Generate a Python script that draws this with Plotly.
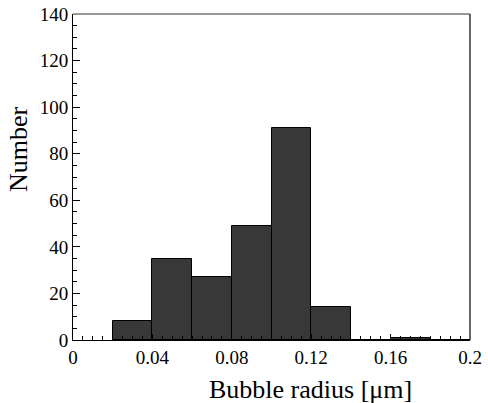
import plotly.graph_objects as go

bin_left = [0.02, 0.04, 0.06, 0.08, 0.10, 0.12, 0.14, 0.16, 0.18]
counts = [8, 35, 27, 49, 91, 14, 0, 1, 0]
bin_width = 0.02
x_ticks = [0, 0.04, 0.08, 0.12, 0.16, 0.2]
x_ticktext = ["0", "0.04", "0.08", "0.12", "0.16", "0.2"]
y_ticks = [0, 20, 40, 60, 80, 100, 120, 140]

centers = [b + bin_width / 2 for b in bin_left]

fig = go.Figure()
fig.add_trace(go.Bar(
    x=centers, y=counts, width=[bin_width] * len(counts),
    marker=dict(color="#383838", line=dict(color="black", width=1)),
    showlegend=False,
))

font = "Liberation Serif"
fig.update_layout(
    width=488, height=403,
    margin=dict(l=73, r=18, t=14, b=63),
    paper_bgcolor="white", plot_bgcolor="white",
    font=dict(family=font, size=19, color="black"),
    bargap=0,
    xaxis=dict(
        range=[0, 0.2], tickvals=x_ticks, ticktext=x_ticktext,
        automargin=False,
        ticks="inside", ticklen=6, tickcolor="black", tickwidth=1,
        showline=True, linecolor="black", linewidth=1,
        showgrid=False, zeroline=False,
        minor=dict(ticks="inside", dtick=0.005, ticklen=4, tickcolor="black", showgrid=False),
        tickfont=dict(family=font, size=19, color="black"),
    ),
    yaxis=dict(
        range=[0, 140], tickvals=y_ticks,
        automargin=False,
        ticks="inside", ticklen=7, tickcolor="black", tickwidth=1,
        showline=True, linecolor="black", linewidth=1,
        showgrid=False, zeroline=False,
        minor=dict(ticks="inside", dtick=5, ticklen=4, tickcolor="black", showgrid=False),
        tickfont=dict(family=font, size=19, color="black"),
    ),
    shapes=[
        dict(type="line", xref="paper", yref="paper", x0=0, x1=1, y0=1, y1=1,
             line=dict(color="#777777", width=1.5)),
        dict(type="line", xref="paper", yref="paper", x0=1, x1=1, y0=0, y1=1,
             line=dict(color="black", width=1.2)),
    ],
    annotations=[
        dict(text="Bubble radius [μm]", xref="paper", yref="paper", x=0.598, y=0,
             yshift=-49, showarrow=False, xanchor="center", yanchor="middle",
             font=dict(family=font, size=26, color="black")),
        dict(text="Number", xref="paper", yref="paper", x=0, y=0.586,
             xshift=-54, showarrow=False, textangle=-90, xanchor="center",
             yanchor="middle", font=dict(family=font, size=26, color="black")),
    ],
)

fig.write_html("out.html", config={"displayModeBar": False},
               post_script="document.body.style.margin='0px';")
